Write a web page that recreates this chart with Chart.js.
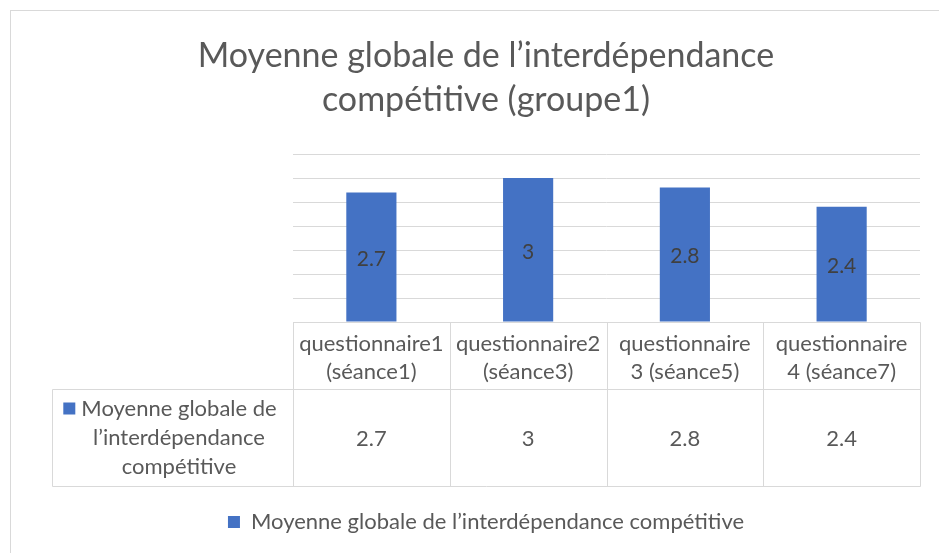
<!DOCTYPE html>
<html>
<head>
<meta charset="utf-8">
<script src="https://cdn.jsdelivr.net/npm/chart.js@4/dist/chart.umd.min.js"></script>
<style>
  html, body { margin: 0; padding: 0; background: #fff; }
  #wrap { width: 939px; height: 553px; }
</style>
</head>
<body>
<div id="wrap"><canvas id="chart" width="939" height="553"></canvas></div>
<script>
// données
const categories = [
    ['questionnaire1', '(séance1)'],
    ['questionnaire2', '(séance3)'],
    ['questionnaire', '3 (séance5)'],
    ['questionnaire', '4 (séance7)']
];
const values = [2.7, 3, 2.8, 2.4];
const seriesName = 'Moyenne globale de l’interdépendance compétitive';
const seriesNameLines = ['Moyenne globale de', 'l’interdépendance', 'compétitive'];
const titleLines = ['Moyenne globale de l’interdépendance', 'compétitive (groupe1)'];

const FONT = 'Lato, "Open Sans", sans-serif';
const TEXT = '#595959';
const BLUE = '#4472c4';
const LINE = '#d9d9d9';

// cadre du graphique
const framePlugin = {
    id: 'frame',
    beforeDraw(chart) {
        const ctx = chart.ctx;
        ctx.save();
        ctx.fillStyle = '#fff';
        ctx.fillRect(0, 0, chart.width, chart.height);
        ctx.strokeStyle = LINE;
        ctx.lineWidth = 1;
        ctx.strokeRect(10.5, 10.5, chart.width + 10, chart.height + 10);
        ctx.restore();
    }
};

// étiquettes au centre des barres
const labelsPlugin = {
    id: 'barLabels',
    afterDatasetsDraw(chart) {
        const ctx = chart.ctx;
        const meta = chart.getDatasetMeta(0);
        ctx.save();
        ctx.font = '21px ' + FONT;
        ctx.fillStyle = '#404040';
        ctx.textAlign = 'center';
        ctx.textBaseline = 'middle';
        meta.data.forEach((bar, i) => {
            ctx.fillText(String(values[i]), bar.x, (bar.y + bar.base) / 2 + 2);
        });
        ctx.restore();
    }
};

// table de données sous l'axe
const tablePlugin = {
    id: 'dataTable',
    afterDraw(chart) {
        const ctx = chart.ctx;
        const x = chart.scales.x;
        const area = chart.chartArea;
        const top = Math.round(area.bottom) + 0.5;
        const row1 = top + 67;
        const row2 = row1 + 97;
        const left = 52.5;
        const step = (area.right - area.left) / categories.length;
        const edges = categories.map((c, i) => Math.round(area.left + i * step) + 0.5);
        edges.push(Math.round(area.right) + 0.5);

        ctx.save();
        ctx.strokeStyle = LINE;
        ctx.lineWidth = 1;
        ctx.beginPath();
        ctx.moveTo(edges[0], top); ctx.lineTo(edges[edges.length - 1], top);
        ctx.moveTo(left, row1); ctx.lineTo(edges[edges.length - 1], row1);
        ctx.moveTo(left, row2); ctx.lineTo(edges[edges.length - 1], row2);
        ctx.moveTo(left, row1); ctx.lineTo(left, row2);
        edges.forEach(e => { ctx.moveTo(e, top); ctx.lineTo(e, row2); });
        ctx.stroke();

        ctx.fillStyle = TEXT;
        ctx.font = '22px ' + FONT;
        ctx.textAlign = 'center';
        ctx.textBaseline = 'middle';
        categories.forEach((lines, i) => {
            const cx = x.getPixelForValue(i);
            ctx.fillText(lines[0], cx, top + 21);
            ctx.fillText(lines[1], cx, top + 49);
            ctx.fillText(String(values[i]), cx, row1 + 49);
        });

        // nom de la série avec son carré
        const lx = (left + edges[0]) / 2 + 6;
        seriesNameLines.forEach((s, j) => {
            ctx.fillText(s, lx, row1 + 19 + j * 29);
        });
        const w0 = ctx.measureText(seriesNameLines[0]).width;
        ctx.fillStyle = BLUE;
        ctx.fillRect(lx - w0 / 2 - 18, row1 + 13, 12, 12);
        ctx.restore();
    }
};

new Chart(document.getElementById('chart'), {
    type: 'bar',
    data: {
        labels: categories,
        datasets: [{
            label: seriesName,
            data: values,
            backgroundColor: BLUE,
            barPercentage: 0.32,
            categoryPercentage: 1
        }]
    },
    options: {
        responsive: false,
        animation: false,
        layout: { padding: { left: 52, right: 19, top: 0, bottom: 10 } },
        plugins: {
            title: {
                display: true,
                text: titleLines,
                color: TEXT,
                font: { family: FONT, size: 34, weight: 'normal', lineHeight: '44px' },
                padding: { top: 34, bottom: 32 }
            },
            legend: {
                position: 'bottom',
                labels: {
                    color: TEXT,
                    font: { family: FONT, size: 22 },
                    boxWidth: 12,
                    boxHeight: 12,
                    padding: 6
                }
            },
            tooltip: { enabled: false }
        },
        scales: {
            x: {
                grid: { display: false },
                border: { display: false },
                ticks: { display: false },
                afterFit(scale) { scale.height = 183; }
            },
            y: {
                min: 0,
                max: 3.5,
                grid: { color: LINE, lineWidth: 1, drawTicks: false },
                border: { display: false },
                ticks: { display: false, stepSize: 0.5 },
                afterFit(scale) { scale.width = 241; }
            }
        }
    },
    plugins: [framePlugin, labelsPlugin, tablePlugin]
});
</script>
</body>
</html>
